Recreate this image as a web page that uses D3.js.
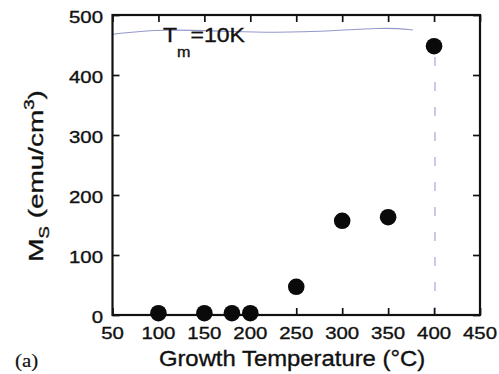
<!DOCTYPE html>
<html>
<head>
<meta charset="utf-8">
<script src="https://cdn.jsdelivr.net/npm/d3@7"></script>
<style>
  html, body { margin: 0; padding: 0; background: #ffffff; }
  svg { display: block; }
</style>
</head>
<body>
<svg id="chart" width="499" height="374"></svg>
<script>
// ---- data ----
const growthTemp = [100, 150, 180, 200, 250, 300, 350, 400];
const msValues   = [3, 3, 3, 3, 47, 157, 163, 448];
const xTicks = [50, 100, 150, 200, 250, 300, 350, 400, 450];
const yTicks = [0, 100, 200, 300, 400, 500];
// faint pen marks visible on the scanned figure
const penLineX = [50, 102, 181, 254, 349, 377];
const penLineY = [468, 477, 472, 470, 480, 475];
const markerX = 401;
const markerYRange = [430, 0];

const svg = d3.select("#chart");
const W = 499, H = 374;
const mLeft = 112.5, mRight = 480, mTop = 15, mBottom = 315;
const SANS = "'Liberation Sans', Arial, Helvetica, sans-serif";
const SERIF = "'Liberation Serif', 'Times New Roman', serif";

const x = d3.scaleLinear().domain([50, 450]).range([mLeft, mRight]);
const y = d3.scaleLinear().domain([0, 500]).range([mBottom, mTop]);

svg.append("rect").attr("width", W).attr("height", H).attr("fill", "#fff");

function txt(sel, family) {
  return sel.attr("font-family", family || SANS).attr("fill", "#111")
    .attr("stroke", "#111").attr("stroke-width", 0.35);
}

// pen marks (faint blue)
svg.append("path")
  .datum(penLineX.map((v, i) => [v, penLineY[i]]))
  .attr("d", d3.line().x(d => x(d[0])).y(d => y(d[1])).curve(d3.curveBasis))
  .attr("fill", "none").attr("stroke", "#7076b8").attr("stroke-width", 1.1).attr("opacity", 0.75);
svg.append("line")
  .attr("x1", x(markerX)).attr("x2", x(markerX))
  .attr("y1", y(markerYRange[0])).attr("y2", y(markerYRange[1]))
  .attr("stroke", "#5a60b8").attr("stroke-width", 1.1)
  .attr("stroke-dasharray", "9,16").attr("opacity", 0.6);

// axes with inward ticks
const tickLen = 7;
function styleAxis(g) {
  g.select(".domain").remove();
  g.selectAll(".tick line").attr("stroke", "#111").attr("stroke-width", 1.7);
  g.selectAll(".tick text").remove();
}
svg.append("g").attr("transform", `translate(0,${mBottom})`)
  .call(d3.axisBottom(x).tickValues(xTicks).tickSize(-tickLen)).call(styleAxis);
svg.append("g").attr("transform", `translate(0,${mTop})`)
  .call(d3.axisTop(x).tickValues(xTicks).tickSize(-tickLen)).call(styleAxis);
svg.append("g").attr("transform", `translate(${mLeft},0)`)
  .call(d3.axisLeft(y).tickValues(yTicks).tickSize(-tickLen)).call(styleAxis);
svg.append("g").attr("transform", `translate(${mRight},0)`)
  .call(d3.axisRight(y).tickValues(yTicks).tickSize(-tickLen)).call(styleAxis);

// frame
svg.append("rect")
  .attr("x", mLeft).attr("y", mTop).attr("width", mRight - mLeft).attr("height", mBottom - mTop)
  .attr("fill", "none").attr("stroke", "#111").attr("stroke-width", 2.2);

// tick labels
const sx = 1.2;
svg.append("g").selectAll("text").data(xTicks).join("text")
  .attr("transform", d => `translate(${x(d)},339) scale(${sx},1)`)
  .attr("text-anchor", "middle").attr("font-size", 17)
  .call(txt)
  .text(d => d);
svg.append("g").selectAll("text").data(yTicks).join("text")
  .attr("transform", d => `translate(103,${y(d) + 8}) scale(${sx},1)`)
  .attr("text-anchor", "end").attr("font-size", 17)
  .call(txt)
  .text(d => d);

// axis titles
svg.append("text")
  .attr("transform", "translate(292,366) scale(1.085,1)")
  .attr("text-anchor", "middle").attr("font-size", 22)
  .call(txt)
  .text("Growth Temperature (°C)");

const yl = svg.append("text")
  .attr("transform", "translate(43,176) rotate(-90) scale(1.33,1)")
  .attr("text-anchor", "middle").attr("font-size", 21)
  .call(txt);
yl.append("tspan").text("M");
yl.append("tspan").attr("font-size", 14).attr("dy", 6).text("S");
yl.append("tspan").attr("dy", -6).text(" (emu/cm");
yl.append("tspan").attr("font-size", 14).attr("dy", -9).text("3");
yl.append("tspan").attr("dy", 9).text(")");

// annotation
const ann = svg.append("text")
  .attr("transform", "translate(163,42) scale(1.15,1)")
  .attr("font-size", 20)
  .call(txt);
ann.append("tspan").text("T");
ann.append("tspan").attr("font-size", 14).attr("dy", 15).text("m");
ann.append("tspan").attr("dy", -15).text("=10K");

// panel label
svg.append("text")
  .attr("transform", "translate(15,367) scale(1.1,1)")
  .attr("font-size", 19)
  .call(txt, SERIF)
  .attr("stroke-width", 0.2)
  .text("(a)");

// data points
svg.append("g").selectAll("circle").data(growthTemp).join("circle")
  .attr("cx", d => x(d))
  .attr("cy", (d, i) => y(msValues[i]))
  .attr("r", 8.3)
  .attr("fill", "#0a0a0a");
</script>
</body>
</html>
